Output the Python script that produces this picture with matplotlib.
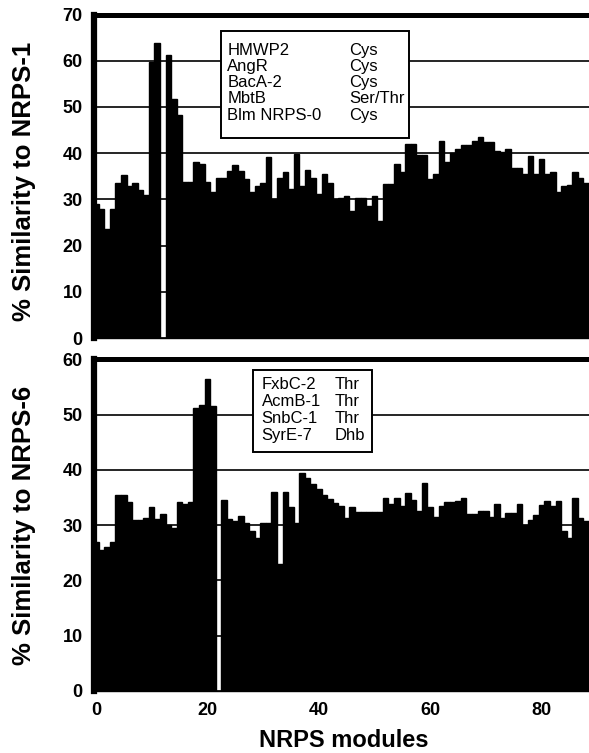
"""
Per-module similarity of NRPS modules to NRPS-1 (top) and NRPS-6 (bottom).
"""
import numpy as np, matplotlib
matplotlib.use('Agg')
import matplotlib.pyplot as plt
from matplotlib.patches import Rectangle

plt.rcParams.update({
    'font.family': ['Liberation Sans', 'DejaVu Sans'],
    'font.size': 12,
})

# % similarity to NRPS-1, one value per module (0 = missing module)
sim_nrps1 = [29, 28, 23.5, 28, 33.5, 35.3, 33, 33.5, 32, 31,
             59.8, 63.8, 0, 61.2, 51.7, 48.3, 33.7, 33.7, 38, 37.7,
             33.7, 31.5, 34.6, 34.6, 36.2, 37.4, 36.2, 34.4, 31.6, 32.8,
             33.6, 39.1, 30.0, 34.7, 36, 32.3, 39.8, 33, 36.4, 34.7,
             31.1, 35.4, 33.5, 30, 30.4, 30.7, 27.5, 30.4, 30.4, 28.5,
             30.7, 25.3, 33.3, 33.3, 37.6, 36, 42, 42, 39.5, 39.5,
             34.5, 35.5, 42.7, 38, 40, 41, 41.7, 41.8, 42.7, 43.6,
             42.5, 42.5, 40.5, 40.3, 41, 36.7, 36.7, 35.4, 39.3, 35.4,
             38.7, 35.5, 35.9, 31.6, 32.9, 33.2, 35.9, 34.7, 33.6]

# % similarity to NRPS-6
sim_nrps6 = [27, 25.5, 26, 27, 35.5, 35.5, 34.1, 30.9, 30.9, 31.3,
             33.3, 31.1, 32.1, 30.1, 29.5, 34.1, 33.8, 34.1, 51.2, 51.8,
             56.4, 51.5, 0, 34.5, 31.1, 30.8, 31.6, 30.3, 28.9, 27.7,
             30.4, 30.4, 36, 23, 36, 33.2, 30.4, 39.5, 38.5, 37.5,
             36.5, 35.5, 34.7, 34, 33.5, 31.3, 33.3, 32.4, 32.3, 32.3,
             32.3, 32.3, 35, 33.9, 35, 33.5, 35.8, 34.5, 32.5, 37.7,
             33.2, 31.5, 33.4, 34.1, 34.1, 34.4, 35, 32.1, 32.1, 32.5,
             32.5, 31.5, 33.8, 31.3, 32.2, 32.2, 33.8, 30.1, 31, 31.9,
             33.7, 34.4, 33.4, 34.4, 28.9, 27.7, 35, 31.3, 30.7]

top_names = ['HMWP2', 'AngR', 'BacA-2', 'MbtB', 'Blm NRPS-0']
top_res = ['Cys', 'Cys', 'Cys', 'Ser/Thr', 'Cys']
bot_names = ['FxbC-2', 'AcmB-1', 'SnbC-1', 'SyrE-7']
bot_res = ['Thr', 'Thr', 'Thr', 'Dhb']

x_ticks = [0, 20, 40, 60, 80]

fig = plt.figure(figsize=(5.89, 7.53), dpi=100)
ax1 = fig.add_axes([0.1591, 0.5511, 0.8409, 0.4296])
ax2 = fig.add_axes([0.1591, 0.0827, 0.8409, 0.4399])


def style(ax, vals, ymax):
    x = np.arange(len(vals))
    ax.bar(x, vals, width=1.0, color='black', edgecolor='black', linewidth=1.0, zorder=1)
    ax.set_xlim(-0.4, 88.5)
    ax.set_ylim(0, ymax)
    yt = list(range(0, ymax + 1, 10))
    ax.set_yticks(yt, [str(v) for v in yt], fontweight='bold', fontsize=13)
    ax.yaxis.grid(True, color='black', lw=1.2)
    ax.set_axisbelow(False)
    ax.tick_params(axis='both', length=0, pad=8)
    ax.spines['right'].set_visible(False)
    ax.spines['top'].set_linewidth(3.6)
    ax.spines['left'].set_linewidth(4.5)
    ax.spines['bottom'].set_linewidth(1.0)


def key_box(ax, x0, y0, x1, y1, names, res, cx1, cx2, ys):
    ax.add_patch(Rectangle((x0, y0), x1 - x0, y1 - y0, transform=ax.transAxes,
                           facecolor='white', edgecolor='black', lw=1.4, zorder=5))
    for n, r, yy in zip(names, res, ys):
        ax.text(cx1, yy, n, transform=ax.transAxes, fontsize=12, va='center', ha='left', zorder=6)
        ax.text(cx2, yy, r, transform=ax.transAxes, fontsize=12, va='center', ha='left', zorder=6)


# ── TOP: similarity to NRPS-1 ──
style(ax1, sim_nrps1, 70)
ax1.set_xticks([])
key_box(ax1, 0.2564, 0.618, 0.6366, 0.950, top_names, top_res, 0.2697, 0.5150,
        [0.888, 0.839, 0.790, 0.739, 0.688])

# ── BOTTOM: similarity to NRPS-6 ──
style(ax2, sim_nrps6, 60)
ax2.set_xticks(x_ticks, [str(v) for v in x_ticks], fontweight='bold', fontsize=13)
ax2.tick_params(axis='x', pad=8)
key_box(ax2, 0.321, 0.7216, 0.5613, 0.968, bot_names, bot_res, 0.339, 0.487,
        [0.925, 0.8726, 0.8225, 0.772])

fig.text(0.0407, 0.7596, '% Similarity to NRPS-1', rotation=90, ha='center', va='center',
         fontsize=18.5, fontweight='bold')
fig.text(0.0407, 0.3028, '% Similarity to NRPS-6', rotation=90, ha='center', va='center',
         fontsize=18.5, fontweight='bold')
fig.text(344 / 589, 0.008, 'NRPS modules', ha='center', va='baseline',
         fontsize=17, fontweight='bold')

fig.savefig('out.png', dpi=100, facecolor='white')
plt.close(fig)
